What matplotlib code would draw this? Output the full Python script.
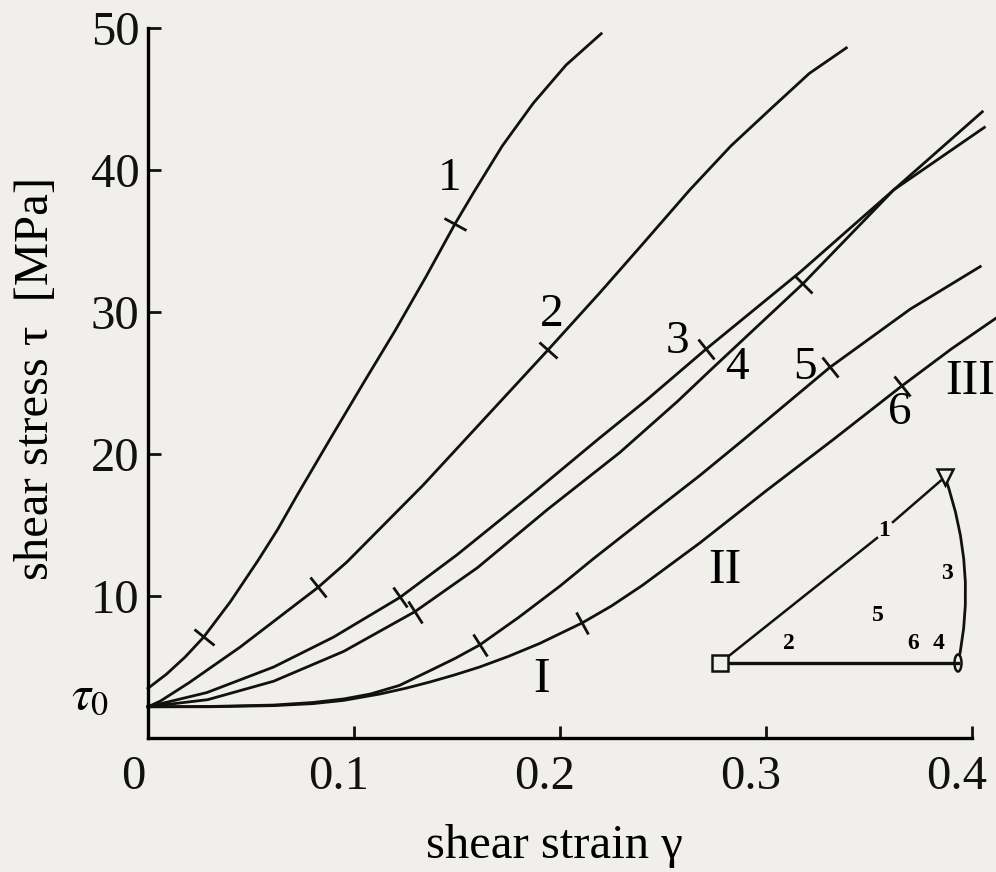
import numpy as np
import matplotlib
matplotlib.use('Agg')
import matplotlib.pyplot as plt
from matplotlib.markers import MarkerStyle
from matplotlib.transforms import Affine2D, ScaledTranslation
from matplotlib.path import Path
from matplotlib.patches import PathPatch, Ellipse

plt.rcParams['font.family'] = ['Liberation Serif', 'DejaVu Serif']
plt.rcParams['mathtext.fontset'] = 'stix'

# shear strain gamma / shear stress tau [MPa]
g1 = [0, 0.009, 0.018, 0.027, 0.040, 0.0534, 0.063, 0.072, 0.089, 0.105, 0.12, 0.135,
      0.149, 0.158, 0.172, 0.187, 0.203, 0.22]
t1 = [3.5, 4.5, 5.7, 7.1, 9.6, 12.5, 14.7, 17.0, 21.2, 25.1, 28.7, 32.5,
      36.2, 38.4, 41.7, 44.7, 47.4, 49.6]
g2 = [0, 0.006, 0.020, 0.0447, 0.0825, 0.0966, 0.1335, 0.194, 0.219, 0.239, 0.263,
      0.283, 0.303, 0.321, 0.339]
t2 = [2.2, 2.6, 3.9, 6.4, 10.6, 12.4, 17.8, 27.3, 31.3, 34.6, 38.6,
      41.7, 44.4, 46.8, 48.6]
g3 = [0, 0.0286, 0.061, 0.09, 0.1223, 0.15, 0.185, 0.219, 0.242, 0.271, 0.3165, 0.362, 0.406]
t3 = [2.2, 3.2, 5.0, 7.1, 9.9, 12.9, 17.0, 21.1, 23.8, 27.4, 32.8, 38.6, 43.0]
g4 = [0, 0.029, 0.061, 0.095, 0.1296, 0.16, 0.194, 0.229, 0.257, 0.273, 0.318, 0.362, 0.405]
t4 = [2.2, 2.7, 4.0, 6.1, 8.9, 12.0, 16.1, 20.1, 23.7, 25.9, 32.0, 38.6, 44.1]
g5 = [0, 0.03, 0.061, 0.08, 0.095, 0.108, 0.122, 0.137, 0.149, 0.161, 0.18, 0.2,
      0.216, 0.245, 0.268, 0.289, 0.331, 0.37, 0.404]
t5 = [2.2, 2.22, 2.32, 2.5, 2.75, 3.1, 3.7, 4.75, 5.6, 6.55, 8.5, 10.7,
      12.6, 15.9, 18.5, 21.0, 26.1, 30.2, 33.2]
g6 = [0, 0.03, 0.061, 0.08, 0.095, 0.1126, 0.125, 0.137, 0.149, 0.161, 0.175, 0.19,
      0.2107, 0.225, 0.24, 0.268, 0.3, 0.3325, 0.366, 0.39, 0.412]
t6 = [2.2, 2.2, 2.28, 2.42, 2.65, 3.1, 3.5, 3.95, 4.45, 5.0, 5.75, 6.65,
      8.1, 9.3, 10.75, 13.75, 17.4, 21.0, 24.8, 27.4, 29.6]

# cross marks on each curve
marks_g = [[0.027, 0.149], [0.0825, 0.194], [0.1223, 0.271],
           [0.1296, 0.318], [0.161, 0.331], [0.2107, 0.366]]
marks_t = [[7.1, 36.2], [10.6, 27.3], [9.9, 27.4],
           [8.9, 32.0], [6.55, 26.1], [8.1, 24.8]]

curve_names = ['1', '2', '3', '4', '5', '6']
name_g = [0.1466, 0.196, 0.257, 0.286, 0.319, 0.365]
name_t = [39.4, 29.8, 27.9, 26.1, 26.1, 22.9]

region_names = ['I', 'II', 'III']
region_g = [0.191, 0.280, 0.399]
region_t = [4.1, 11.8, 25.1]

xticks = [0, 0.1, 0.2, 0.3, 0.4]
xticklabels = ['0', '0.1', '0.2', '0.3', '0.4']
yticks = [10, 20, 30, 40, 50]

# inset sketch (figure pixels)
sk_square = (720, 663)
sk_tri = (945, 477)
sk_oval = (958, 663)
sk_bulge = (978, 571)
sk_gap = [(877, 538), (893, 522)]
sk_labels = ['1', '2', '3', '5', '6', '4']
sk_lx = [884, 789, 947, 878, 913, 939]
sk_ly = [530, 643, 573, 615, 643, 643]

bg = '#f0efec'
ink = '#111111'
fig = plt.figure(figsize=(9.96, 8.72), dpi=100, facecolor=bg)
ax = fig.add_axes([148/996, 134/872, 824/996, 710/872])
ax.set_facecolor(bg)

ax.set_xlim(0, 0.4)
ax.set_ylim(0, 50)
for s in ['top', 'right']:
    ax.spines[s].set_visible(False)
for s in ['left', 'bottom']:
    ax.spines[s].set_linewidth(2.4)

ax.set_xticks(xticks)
ax.set_xticklabels(xticklabels)
ax.set_yticks(yticks)
ax.tick_params(direction='in', length=9, width=2, labelsize=35, colors=ink)
ax.tick_params(axis='x', pad=12)
ax.tick_params(axis='y', pad=6)
off = ScaledTranslation(-15/100, 0, fig.dpi_scale_trans)
for lab in ax.get_xticklabels():
    lab.set_transform(lab.get_transform() + off)

ax.text(-0.028, 2.9, r'$\tau_0$', fontsize=35, ha='center', va='center', clip_on=False)

curves = [(g1, t1), (g2, t2), (g3, t3), (g4, t4), (g5, t5), (g6, t6)]
for (g, t), mg, mt in zip(curves, marks_g, marks_t):
    ax.plot(g, t, color=ink, lw=2.0, clip_on=False, solid_joinstyle='round')
    for x, y in zip(mg, mt):
        a = ax.transData.transform((x - 0.004, np.interp(x - 0.004, g, t)))
        b = ax.transData.transform((x + 0.004, np.interp(x + 0.004, g, t)))
        ang = np.degrees(np.arctan2(b[1] - a[1], b[0] - a[0]))
        m = MarkerStyle('|', transform=Affine2D().rotate_deg(ang))
        ax.plot([x], [y], marker=m, ms=18, mew=2.0, color=ink, clip_on=False)

for n, x, y in zip(curve_names, name_g, name_t):
    ax.text(x, y, n, fontsize=34, ha='center', va='center')
for n, x, y in zip(region_names, region_g, region_t):
    ax.text(x, y, n, fontsize=36, ha='center', va='center', clip_on=False)

fig.text(36/996, 1 - 378/872, 'shear stress τ  [MPa]', rotation=90,
         fontsize=35, ha='center', va='center')
fig.text(554/996, 1 - 846/872, 'shear strain γ', fontsize=35, ha='center', va='center')

# inset sketch
ov = fig.add_axes([0, 0, 1, 1])
ov.set_xlim(0, 996)
ov.set_ylim(872, 0)
ov.axis('off')
ov.patch.set_alpha(0)
ov.plot([sk_square[0], sk_oval[0]], [sk_square[1], sk_oval[1]], color=ink, lw=2.4)
ov.plot([sk_square[0], sk_gap[0][0]], [sk_square[1], sk_gap[0][1]], color=ink, lw=1.8)
ov.plot([sk_gap[1][0], sk_tri[0]], [sk_gap[1][1], sk_tri[1]], color=ink, lw=1.8)
arc = Path([sk_tri, sk_bulge, sk_oval], [Path.MOVETO, Path.CURVE3, Path.CURVE3])
ov.add_patch(PathPatch(arc, fc='none', ec=ink, lw=2.0))
ov.plot(*sk_square, marker='s', ms=11, mfc=bg, mec=ink, mew=1.8)
ov.plot(*sk_tri, marker='v', ms=12, mfc=bg, mec=ink, mew=1.8)
ov.add_patch(Ellipse(sk_oval, 7, 17, fc=bg, ec=ink, lw=1.8))
for n, x, y in zip(sk_labels, sk_lx, sk_ly):
    ov.text(x, y, n, fontsize=17, fontweight='bold', ha='center', va='center')

fig.savefig('out.png', dpi=100, facecolor=bg)
